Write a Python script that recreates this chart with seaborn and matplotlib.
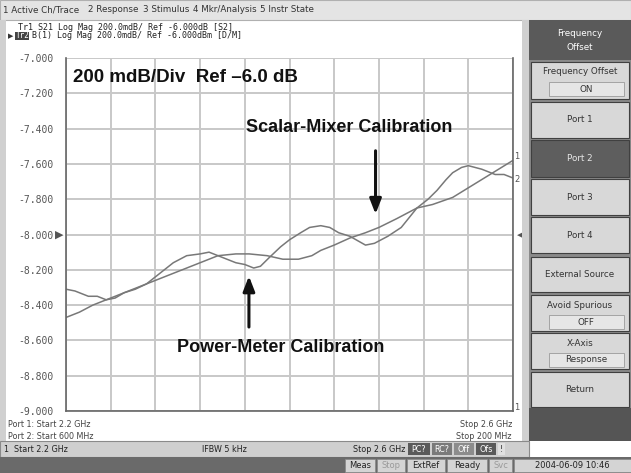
import pandas as pd
import numpy as np
import matplotlib.pyplot as plt
import matplotlib.patches as mpatches
import seaborn as sns

# trace 1 (scalar-mixer cal), GHz / dB
tr1_freq = [2.200, 2.212, 2.224, 2.236, 2.248, 2.260, 2.272, 2.284, 2.296, 2.308,
            2.320, 2.336, 2.352, 2.364, 2.380, 2.394, 2.408, 2.420, 2.428, 2.440,
            2.454, 2.468, 2.480, 2.496, 2.514, 2.528, 2.546, 2.564, 2.582, 2.600]
tr1_mag = [-8.47, -8.44, -8.40, -8.37, -8.34, -8.31, -8.28, -8.25, -8.22, -8.19,
           -8.16, -8.12, -8.11, -8.11, -8.12, -8.14, -8.14, -8.12, -8.09, -8.06,
           -8.02, -7.99, -7.96, -7.91, -7.85, -7.83, -7.79, -7.72, -7.65, -7.58]

# trace 2 (power-meter cal)
tr2_freq = [2.200, 2.208, 2.220, 2.228, 2.236, 2.244, 2.252, 2.262, 2.272, 2.284,
            2.296, 2.308, 2.320, 2.328, 2.336, 2.352, 2.360, 2.368, 2.374, 2.382,
            2.392, 2.400, 2.410, 2.418, 2.428, 2.436, 2.444, 2.454, 2.468, 2.476,
            2.488, 2.500, 2.514, 2.524, 2.532, 2.540, 2.546, 2.554, 2.560, 2.572,
            2.584, 2.592, 2.600]
tr2_mag = [-8.31, -8.32, -8.35, -8.35, -8.37, -8.36, -8.33, -8.31, -8.28, -8.22,
           -8.16, -8.12, -8.11, -8.10, -8.12, -8.16, -8.17, -8.19, -8.18, -8.13,
           -8.07, -8.03, -7.99, -7.96, -7.95, -7.96, -7.99, -8.01, -8.06, -8.05,
           -8.01, -7.96, -7.85, -7.80, -7.75, -7.69, -7.65, -7.62, -7.61, -7.63,
           -7.66, -7.66, -7.68]

y_ticks = [-7.0, -7.2, -7.4, -7.6, -7.8, -8.0, -8.2, -8.4, -8.6, -8.8, -9.0]
menu_items = ["1 Active Ch/Trace", "2 Response", "3 Stimulus", "4 Mkr/Analysis", "5 Instr State"]
softkeys = [("Frequency Offset", "ON"), ("Port 1", None), ("Port 2", None), ("Port 3", None),
            ("Port 4", None), ("External Source", None), ("Avoid Spurious", "OFF"),
            ("X-Axis", "Response"), ("Return", None)]

df = pd.concat([
    pd.DataFrame({"freq": tr1_freq, "mag": tr1_mag, "trace": "1"}),
    pd.DataFrame({"freq": tr2_freq, "mag": tr2_mag, "trace": "2"}),
])

sns.set_style("white")
plt.rcParams['font.family'] = ['DejaVu Sans']
W, H = 631, 473
fig = plt.figure(figsize=(W / 100, H / 100), dpi=100)
fig.patch.set_facecolor("white")

# helpers in screen pixels (origin top-left)
def box(x0, y0, x1, y1, fc, ec="none", lw=0.8):
    fig.patches.append(mpatches.Rectangle((x0 / W, 1 - y1 / H), (x1 - x0) / W, (y1 - y0) / H,
                                          transform=fig.transFigure, fc=fc, ec=ec, lw=lw))

def txt(x, y, s, **kw):
    fig.text(x / W, 1 - y / H, s, **kw)

ui_font = ["DejaVu Sans"]
bold_font = ["Liberation Sans", "DejaVu Sans"]

# menu bar
box(0, 0, W, 20, "#e4e4e4", "#b0b0b0")
for s, x in zip(menu_items, [3, 88, 143, 193, 260]):
    txt(x, 10, s, fontsize=6.3, color="#333333", va="center", family=ui_font)

# left frame and separators
box(0, 20, 6, 441, "#d0d0d0")
box(522, 20, 529, 441, "#d0d0d0")

# trace header
txt(18, 27, "Tr1 S21 Log Mag 200.0mdB/ Ref -6.000dB [S2]", fontsize=6, va="center",
    family=["DejaVu Sans Mono"], color="#222222")
box(15, 32, 29, 40, "#444444")
txt(16, 36, "Tr2", fontsize=5.5, va="center", family=["DejaVu Sans Mono"], color="white")
txt(8, 36, "\u25b6", fontsize=5, va="center", color="#333333")
txt(32, 36, "B(1) Log Mag 200.0mdB/ Ref -6.000dBm [D/M]", fontsize=6, va="center",
    family=["DejaVu Sans Mono"], color="#222222")

# main trace plot
ax = fig.add_axes([66 / W, 1 - 411 / H, (513 - 66) / W, (411 - 58) / H])
sns.lineplot(data=df, x="freq", y="mag", hue="trace", palette=["#787878", "#787878"],
             estimator=None, sort=False, legend=False, linewidth=1.1, ax=ax)
ax.set_xlim(2.2, 2.6)
ax.set_ylim(-9.0, -7.0)
ax.set_xticks(np.linspace(2.2, 2.6, 11))
ax.set_yticks(y_ticks)
ax.set_yticklabels(["%.3f" % v for v in y_ticks], family=["DejaVu Sans Mono"],
                   fontsize=7, color="#555555")
ax.set_xticklabels([])
ax.tick_params(axis="y", length=0, pad=9)
ax.tick_params(axis="x", length=0)
ax.set_xlabel("")
ax.set_ylabel("")
ax.grid(True, color="#c8c8c8", lw=1.4)
ax.set_axisbelow(True)
for side in ["left", "bottom", "right"]:
    ax.spines[side].set_color("#666666")
    ax.spines[side].set_linewidth(1.2)
ax.spines["top"].set_visible(False)

# reference markers and trace labels
ax.annotate("\u25b6", xy=(0, -8.0), xycoords=("axes fraction", "data"), xytext=(-5, 0),
            textcoords="offset points", fontsize=8, color="#555555", ha="center", va="center")
ax.annotate("\u25c0", xy=(1, -8.0), xycoords=("axes fraction", "data"), xytext=(6, 0),
            textcoords="offset points", fontsize=8, color="#555555", ha="center", va="center")
ax.text(2.601, tr1_mag[-1] + 0.02, "1", fontsize=6, color="#555555", va="center", clip_on=False)
ax.text(2.601, tr2_mag[-1] - 0.01, "2", fontsize=6, color="#555555", va="center", clip_on=False)
ax.text(2.601, -8.98, "1", fontsize=6, color="#555555", va="center", clip_on=False)

# annotations
ax.text(2.206, -7.11, "200 mdB/Div  Ref \u20136.0 dB", fontsize=13.5, fontweight="bold",
        family=bold_font, color="#111111", va="center")
ax.text(2.453, -7.395, "Scalar-Mixer Calibration", fontsize=13, fontweight="bold",
        family=bold_font, color="#111111", va="center", ha="center")
ax.annotate("", xy=(2.477, -7.90), xytext=(2.477, -7.51),
            arrowprops=dict(arrowstyle="-|>,head_length=0.9,head_width=0.35", lw=2.2, color="#111111"))
ax.text(2.392, -8.643, "Power-Meter Calibration", fontsize=13, fontweight="bold",
        family=bold_font, color="#111111", va="center", ha="center")
ax.annotate("", xy=(2.3637, -8.22), xytext=(2.3637, -8.54),
            arrowprops=dict(arrowstyle="-|>,head_length=0.9,head_width=0.35", lw=2.2, color="#111111"))

# port info under the grid
for s, y in [("Port 1: Start 2.2 GHz", 424), ("Port 2: Start 600 MHz", 436)]:
    txt(8, y, s, fontsize=5.8, va="center", color="#444444", family=ui_font)
for s, y in [("Stop 2.6 GHz", 424), ("Stop 200 MHz", 436)]:
    txt(512, y, s, fontsize=5.8, va="center", ha="right", color="#444444", family=ui_font)

# channel status bar
box(0, 441, 529, 457, "#cfcfcf", "#8a8a8a")
txt(4, 449, "1  Start 2.2 GHz", fontsize=5.8, va="center", color="#222222", family=ui_font)
txt(202, 449, "IFBW 5 kHz", fontsize=5.8, va="center", color="#222222", family=ui_font)
txt(405, 449, "Stop 2.6 GHz", fontsize=5.8, va="center", ha="right", color="#222222", family=ui_font)
for s, x0, x1, fc in [("PC?", 408, 430, "#5a5a5a"), ("RC?", 432, 452, "#7a7a7a"),
                      ("Off", 454, 474, "#8c8c8c"), ("Ofs", 476, 496, "#5a5a5a")]:
    box(x0, 443, x1, 455, fc)
    txt((x0 + x1) / 2, 449, s, fontsize=5.8, va="center", ha="center", color="white", family=ui_font)
box(498, 443, 505, 455, "#e0e0e0")
txt(501.5, 449, "!", fontsize=5.8, va="center", ha="center", color="#333333")

# instrument status bar
box(0, 457, W, H, "#6a6a6a")
for s, x0, x1, c in [("Meas", 345, 375, "#222222"), ("Stop", 377, 405, "#9a9a9a"),
                     ("ExtRef", 407, 445, "#222222"), ("Ready", 447, 487, "#222222"),
                     ("Svc", 489, 512, "#9a9a9a"), ("2004-06-09 10:46", 514, 631, "#222222")]:
    box(x0, 459, x1, 472, "#d4d4d4", "#888888", 0.5)
    txt((x0 + x1) / 2, 465.5, s, fontsize=6, va="center", ha="center", color=c, family=ui_font)

# softkey panel
box(529, 20, W, 441, "#8a8a8a")
box(529, 20, W, 60, "#5a5a5a")
txt(580, 33, "Frequency", fontsize=6.3, va="center", ha="center", color="white", family=ui_font)
txt(580, 48, "Offset", fontsize=6.3, va="center", ha="center", color="white", family=ui_font)
key_rows = [(62, 99), (102, 138), (140, 177), (179, 215), (217, 253), (257, 292),
            (295, 331), (333, 369), (372, 407)]
for (label, sub), (y0, y1) in zip(softkeys, key_rows):
    dark = label == "Port 2"
    box(531, y0, 629, y1, "#5e5e5e" if dark else "#d8d8d8", "#404040", 0.8)
    col = "#e8e8e8" if dark else "#333333"
    if sub is None:
        txt(580, (y0 + y1) / 2, label, fontsize=6.3, va="center", ha="center", color=col, family=ui_font)
    else:
        txt(580, y0 + 10, label, fontsize=6.3, va="center", ha="center", color=col, family=ui_font)
        box(549, y0 + 20, 624, y0 + 34, "#e6e6e6", "#9a9a9a", 0.6)
        txt(586, y0 + 27, sub, fontsize=6.3, va="center", ha="center", color=col, family=ui_font)
box(529, 408, W, 441, "#555555")

plt.savefig("out.png", dpi=100)
